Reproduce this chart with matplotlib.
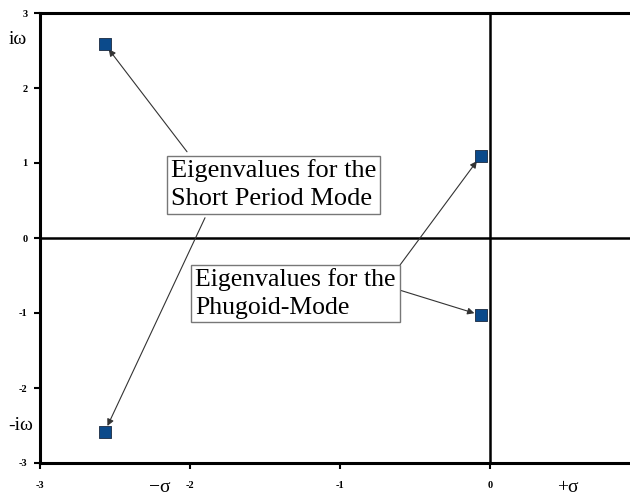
import matplotlib
matplotlib.use("Agg")
import matplotlib.pyplot as plt

# Eigenvalues of the longitudinal dynamics (real part sigma, imaginary part omega)
short_period_re = [-2.57, -2.57]
short_period_im = [2.59, -2.59]
phugoid_re = [-0.06, -0.06]
phugoid_im = [1.10, -1.03]

x_ticks = [-3, -2, -1, 0]
y_ticks = [-3, -2, -1, 0, 1, 2, 3]

serif = ["Liberation Serif", "DejaVu Serif"]
plt.rcParams["axes.unicode_minus"] = False

fig = plt.figure(figsize=(6.3, 4.95), dpi=100)
ax = fig.add_axes([40 / 630, 32 / 495, 590 / 630, 450 / 495])
ax.set_xlim(-3, 0.933)
ax.set_ylim(-3, 3)

# Coordinate axes through the origin
ax.axhline(0, color="black", lw=1.8, zorder=1)
ax.axvline(0, color="black", lw=1.8, zorder=1)

for side in ("left", "bottom", "top"):
    ax.spines[side].set_linewidth(2.2)
ax.spines["right"].set_visible(False)

ax.set_xticks(x_ticks)
ax.set_yticks(y_ticks)
ax.set_xticklabels([str(v) for v in x_ticks])
ax.set_yticklabels([str(v) for v in y_ticks])
ax.tick_params(direction="out", length=4, width=1.5, labelsize=7.5, pad=5)
for lab in ax.get_xticklabels() + ax.get_yticklabels():
    lab.set_fontweight("bold")
    lab.set_family(serif)
ax.tick_params(axis="x", pad=9)

marker_kw = dict(marker="s", s=85, color="#0B4A8B", edgecolor="#1a2a40",
                 linewidths=0.6, zorder=5)
ax.scatter(short_period_re, short_period_im, **marker_kw)
ax.scatter(phugoid_re, phugoid_im, **marker_kw)

arrow_kw = dict(arrowstyle="-|>", color="#333333", lw=0.8,
                mutation_scale=10, shrinkA=0, shrinkB=5)

box_kw = dict(boxstyle="square,pad=0.15", fc="white", ec="#777777", lw=1)

# Short-period callout
ax.text(-1.443, 0.713, "Eigenvalues for the\nShort Period Mode",
        ha="center", va="center", multialignment="left", fontsize=19,
        family=serif, linespacing=1.3, zorder=4, bbox=box_kw)
ax.annotate("", xy=(short_period_re[0], short_period_im[0]), xytext=(-2.02, 1.15),
            arrowprops=arrow_kw, zorder=3)
ax.annotate("", xy=(short_period_re[1], short_period_im[1]), xytext=(-1.90, 0.27),
            arrowprops=arrow_kw, zorder=3)

# Phugoid callout
ax.text(-1.297, -0.74, "Eigenvalues for the\nPhugoid-Mode",
        ha="center", va="center", multialignment="left", fontsize=18.5,
        family=serif, linespacing=1.3, zorder=4, bbox=box_kw)
ax.annotate("", xy=(phugoid_re[0], phugoid_im[0]), xytext=(-0.60, -0.36),
            arrowprops=arrow_kw, zorder=3)
ax.annotate("", xy=(phugoid_re[1], phugoid_im[1]), xytext=(-0.61, -0.69),
            arrowprops=arrow_kw, zorder=3)

# Axis annotations for the complex plane
fig.text(18 / 630, 1 - 40 / 495, "i\u03c9", ha="center", va="center",
         fontsize=14, family=serif)
fig.text(21 / 630, 1 - 425 / 495, "-i\u03c9", ha="center", va="center",
         fontsize=14, family=serif)
fig.text(160 / 630, 1 - 488 / 495, "\u2212\u03c3", ha="center", va="center",
         fontsize=14, family=serif)
fig.text(568 / 630, 1 - 488 / 495, "+\u03c3", ha="center", va="center",
         fontsize=14, family=serif)

fig.savefig("out.png", dpi=100)
